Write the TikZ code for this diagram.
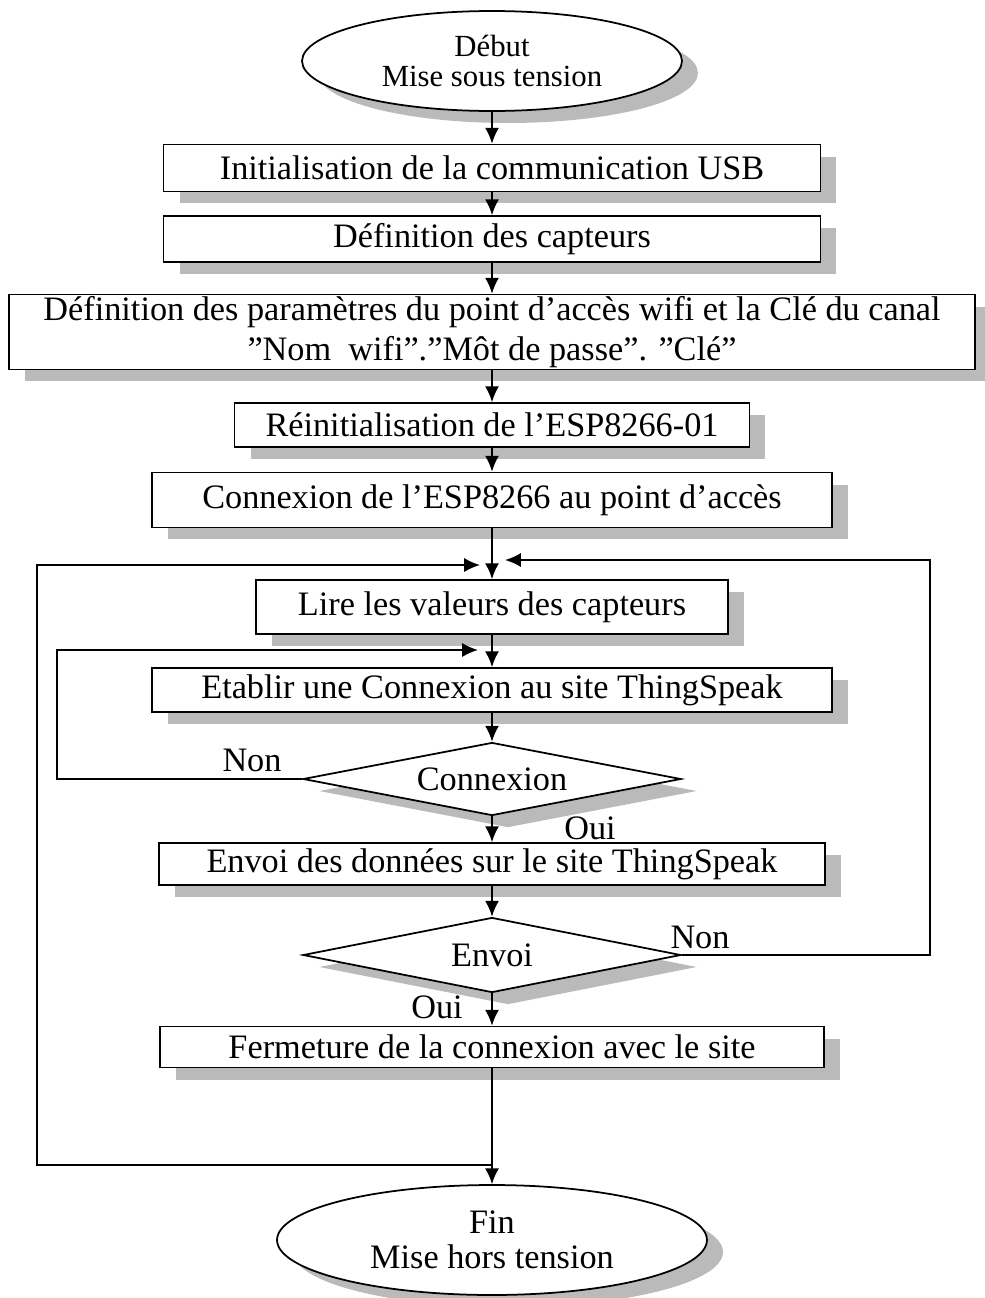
\documentclass[tikz,border=0pt]{standalone}
\usepackage{fontspec}
\setmainfont{Liberation Serif}
\usepackage{tikz}
\usetikzlibrary{shapes,arrows,arrows.meta,shadows}
\tikzstyle{boxshadow} = [general shadow={fill=black!27, shadow xshift=0.32cm, shadow yshift=-0.24cm}]
\tikzstyle{block} = [rectangle, draw, fill=white, line width=1pt, boxshadow, 
align=center, inner sep=0pt]
\tikzstyle{term} = [ellipse, draw, fill=white, line width=1pt, boxshadow, 
align=center, inner sep=0pt]
\tikzstyle{decision} = [diamond, draw, fill=white, line width=1pt, boxshadow, 
aspect=5, inner sep=0pt, minimum width=7.56cm, minimum height=1.46cm]
\tikzstyle{line} = [draw, line width=1pt, -{Latex[length=9pt,width=8pt]}]
\tikzstyle{wire} = [draw, line width=1pt]

\begin{document}
\begin{tikzpicture}[x=0.02cm, y=-0.02cm, font=\fontsize{19.5}{19.5}\selectfont]
	\useasboundingbox (0,0) rectangle (984,1298);
	\node [term, minimum width=7.6cm, minimum height=2cm, font=\fontsize{17.5}{17.5}\selectfont] (debut) at (492,61) {Début\\Mise sous tension};
	\node [block, minimum width=13.14cm, minimum height=0.94cm] (usb) at (492,168) {Initialisation de la communication USB};
	\node [block, minimum width=13.14cm, minimum height=0.92cm] (capteurs) at (492,239) {Définition des capteurs};
	\node [block, minimum width=19.32cm, minimum height=1.5cm, font=\fontsize{19.5}{23}\selectfont] (params) at (492,332) {Définition des paramètres du point d’accès wifi et la Clé du canal\\''Nom\ \ wifi''.''Môt de passe''. ''Clé''};
	\node [block, minimum width=10.3cm, minimum height=0.88cm] (reset) at (492,425) {Réinitialisation de l’ESP8266-01};
	\node [block, minimum width=13.6cm, minimum height=1.1cm] (connap) at (492,500) {Connexion de l’ESP8266 au point d’accès};
	\node [block, minimum width=9.44cm, minimum height=1.08cm] (lire) at (492,607) {Lire les valeurs des capteurs};
	\node [block, minimum width=13.6cm, minimum height=0.88cm] (etablir) at (492,690) {Etablir une Connexion au site ThingSpeak};
	\node [decision] (testconn) at (492,779) {Connexion};
	\node [block, minimum width=13.32cm, minimum height=0.84cm] (envoi) at (492,864) {Envoi des données sur le site ThingSpeak};
	\node [decision, minimum height=1.5cm] (testenvoi) at (492,955) {Envoi};
	\node [block, minimum width=13.28cm, minimum height=0.82cm] (fermer) at (492,1047) {Fermeture de la connexion avec le site};
	\node [term, minimum width=8.6cm, minimum height=2.2cm, font=\fontsize{19.5}{20}\selectfont] (fin) at (492,1240) {Fin\\Mise hors tension};
	
	\node (non1) at (252,760) {Non};
	\node (oui1) at (590,828) {Oui};
	\node (non2) at (700,937) {Non};
	\node (oui2) at (437,1007) {Oui};
	
	\coordinate (mergeL) at (480,565);
	\coordinate (mergeR) at (505,560);
	\coordinate (mergeI) at (478,650);
	\coordinate (retour) at (492,1165);
	\coordinate (coinL) at (37,1165);
	\coordinate (coinR) at (930,560);
	\coordinate (coinI) at (57,779);
	
	\path [line] (debut) -- (usb);
	\path [line] (usb) -- (capteurs);
	\path [line] (capteurs) -- (params);
	\path [line] (params) -- (reset);
	\path [line] (reset) -- (connap);
	\path [line] (connap) -- (lire);
	\path [line] (lire) -- (etablir);
	\path [line] (etablir) -- (testconn);
	\path [line] (testconn) -- (envoi);
	\path [line] (envoi) -- (testenvoi);
	\path [line] (testenvoi) -- (fermer);
	\path [line] (fermer) -- (fin);
	
	\path [line] (testconn.west) -- (coinI) |- (mergeI);
	\path [line] (testenvoi.east) -| (coinR) -- (mergeR);
	\path [line] (retour) -- (coinL) |- (mergeL);
	
\end{tikzpicture}
\end{document}
